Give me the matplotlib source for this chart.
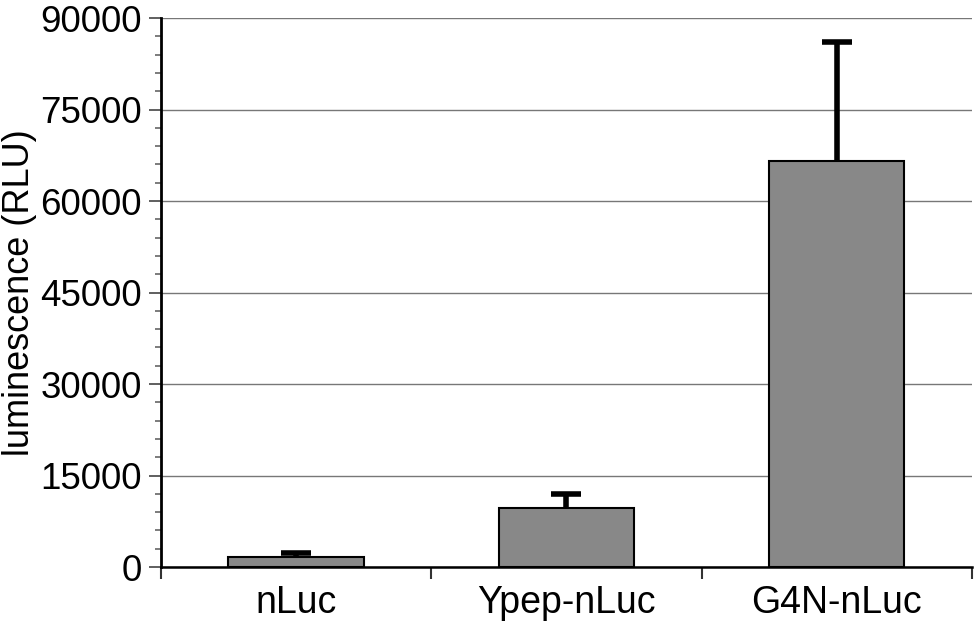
import matplotlib.pyplot as plt
import numpy as np
from matplotlib.ticker import MultipleLocator, FixedLocator, NullFormatter

plt.rcParams['font.family'] = ['Liberation Sans', 'DejaVu Sans']

labels = ["nLuc", "Ypep-nLuc", "G4N-nLuc"]
values = [1650, 9700, 66500]
errors = [650, 2300, 19600]

fig = plt.figure(figsize=(9.75, 6.22), dpi=100)
ax = fig.add_axes([0.165, 0.0884, 0.832, 0.8826])

x = np.arange(len(labels))
ax.bar(x, values, width=0.5, color="#888888", edgecolor="black", linewidth=1.5, zorder=3)
eb = ax.errorbar(x, values, yerr=[np.zeros(len(errors)), errors], fmt="none",
                 ecolor="black", elinewidth=4, capsize=10.5, capthick=4, zorder=2)
# only the upper cap
eb[1][0].set_visible(False)

ax.set_xlim(-0.5, 2.5)
ax.set_ylim(0, 90000)
ax.yaxis.set_major_locator(MultipleLocator(15000))
ax.yaxis.set_minor_locator(MultipleLocator(3000))
ax.grid(axis="y", which="major", color="#777777", linewidth=1, zorder=0)

ax.set_xticks(x)
ax.set_xticklabels(labels)
ax.xaxis.set_minor_locator(FixedLocator([-0.5, 0.5, 1.5, 2.5]))
ax.xaxis.set_minor_formatter(NullFormatter())
ax.tick_params(axis="x", which="major", length=0, labelsize=27, pad=13)
ax.tick_params(axis="x", which="minor", length=8.6, width=1.5, direction="out", color="#333333")
ax.tick_params(axis="y", which="major", length=8.6, width=1.2, direction="out", labelsize=26.5, pad=5, color="#444444")
ax.tick_params(axis="y", which="minor", length=4.3, width=1.2, direction="out", color="#666666")

ax.spines["top"].set_visible(False)
ax.spines["right"].set_visible(False)
ax.spines["left"].set_linewidth(2)
ax.spines["bottom"].set_linewidth(1.8)

ax.set_ylabel("luminescence (RLU)", fontsize=26)
ax.yaxis.set_label_coords(-0.153, 0.5)

plt.savefig("out.png", format="png")
